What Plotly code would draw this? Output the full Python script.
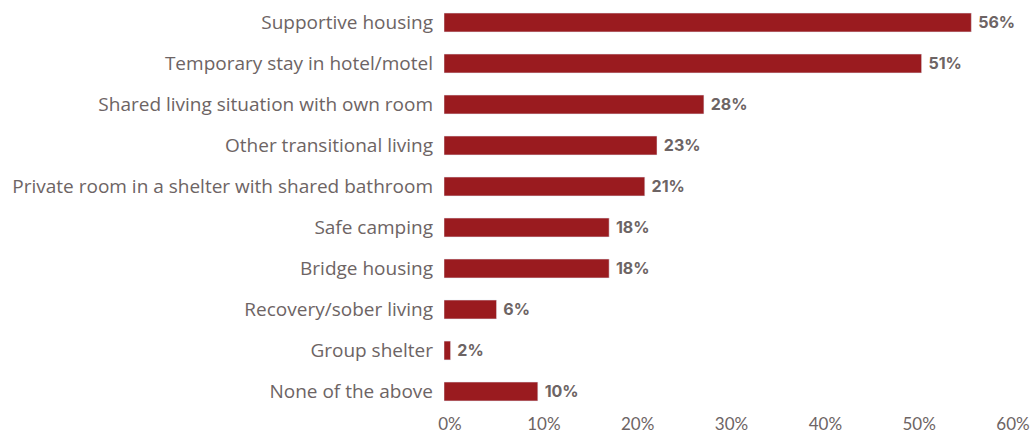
import plotly.graph_objects as go

# housing options, top to bottom as shown
categories = [
    "Supportive housing",
    "Temporary stay in hotel/motel",
    "Shared living situation with own room",
    "Other transitional living",
    "Private room in a shelter with shared bathroom",
    "Safe camping",
    "Bridge housing",
    "Recovery/sober living",
    "Group shelter",
    "None of the above",
]
# bar lengths as drawn (percent)
values = [56.2, 50.9, 27.7, 22.7, 21.4, 17.6, 17.6, 5.6, 0.7, 10.0]
# value labels printed next to the bars
pct_labels = ["56%", "51%", "28%", "23%", "21%", "18%", "18%", "6%", "2%", "10%"]
x_ticks = [0, 10, 20, 30, 40, 50, 60]
x_tick_text = ["0%", "10%", "20%", "30%", "40%", "50%", "60%"]

red = "#9a1b1f"
grey = "#6d6464"

fig = go.Figure()
fig.add_bar(
    y=categories,
    x=values,
    orientation="h",
    marker_color=red,
    width=0.46,
    text=[" " + t for t in pct_labels],
    textposition="outside",
    textfont=dict(family="Inter", size=17, color=grey, weight=700),
    cliponaxis=False,
)

fig.update_layout(
    width=1034,
    height=434,
    margin=dict(l=444, r=27, t=2, b=22),
    plot_bgcolor="white",
    paper_bgcolor="white",
    showlegend=False,
)
fig.update_xaxes(
    range=[0, 60],
    tickvals=x_ticks,
    ticktext=x_tick_text,
    showgrid=False,
    zeroline=False,
    showline=False,
    ticks="",
    ticklabelstandoff=0,
    ticklabelshift=6,
    automargin=False,
    tickfont=dict(family="Lato", size=17, color=grey),
)
fig.update_yaxes(
    autorange="reversed",
    showgrid=False,
    zeroline=False,
    showline=False,
    ticks="",
    ticklabelstandoff=10,
    tickfont=dict(family="Open Sans", size=19, color=grey),
)

# drop the browser's default page margin so the figure sits at 0,0
fig.write_html(
    "out.html",
    config={"displayModeBar": False},
    post_script="document.body.style.margin='0';",
)
